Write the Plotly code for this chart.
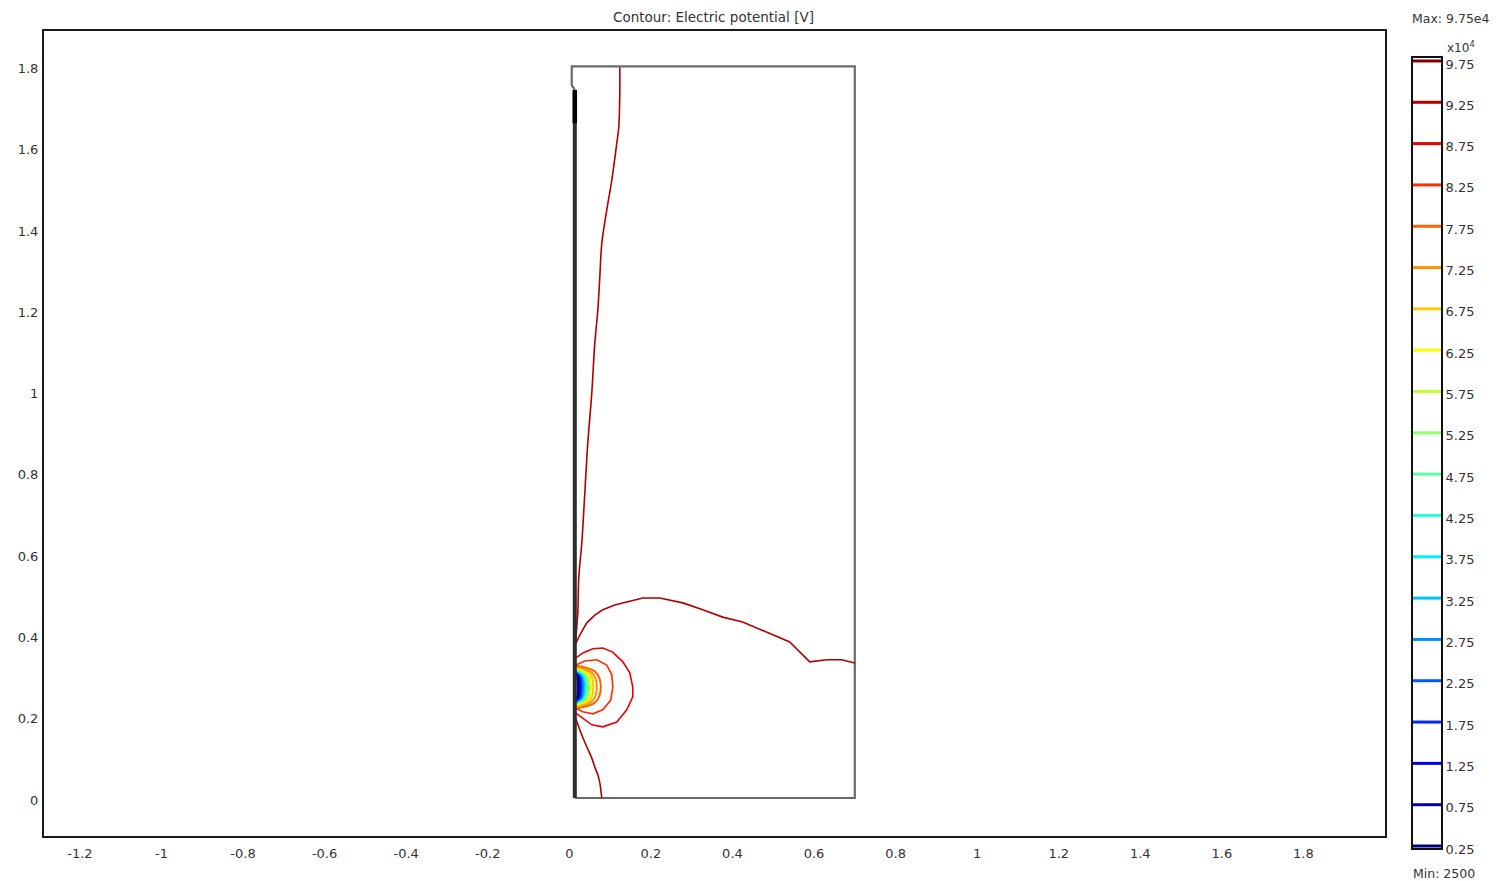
import plotly.graph_objects as go

W, H = 1499, 881

# Contour levels in units of 1e4 V, with their line colours
levels = [0.25, 0.75, 1.25, 1.75, 2.25, 2.75, 3.25, 3.75, 4.25, 4.75,
          5.25, 5.75, 6.25, 6.75, 7.25, 7.75, 8.25, 8.75, 9.25, 9.75]
level_colors = ["#000080", "#0000b8", "#0000f0", "#0028ff", "#005cff",
                "#0090ff", "#00c4ff", "#00f0ff", "#28ffd4", "#5cffa0",
                "#90ff6c", "#c4ff38", "#f8ff00", "#ffc800", "#ff9400",
                "#ff6000", "#ff2c00", "#e80000", "#b00000", "#800000"]
color_of = dict(zip(levels, level_colors))

# 9.25e4 V contour: branch from the top boundary down to the wire
c925_top_x = [0.1238, 0.1238, 0.1213, 0.1164, 0.1042, 0.0919, 0.0797, 0.0748,
              0.0699, 0.0625, 0.0551, 0.0453, 0.0380, 0.0306, 0.0233, 0.0208,
              0.0184, 0.0159]
c925_top_y = [1.798, 1.734, 1.651, 1.611, 1.520, 1.447, 1.365, 1.282,
              1.200, 1.119, 0.996, 0.873, 0.750, 0.627, 0.544, 0.455,
              0.421, 0.389]

# 9.25e4 V contour: arch over the source reaching the outer boundary
c925_arch_x = [0.0159, 0.0257, 0.0429, 0.0625, 0.0821, 0.1115, 0.1409, 0.1801,
               0.2218, 0.2782, 0.3272, 0.3762, 0.4252, 0.4841, 0.5404, 0.5895,
               0.6311, 0.6679, 0.7000]
c925_arch_y = [0.380, 0.401, 0.431, 0.450, 0.463, 0.475, 0.482, 0.492,
               0.492, 0.480, 0.463, 0.445, 0.433, 0.408, 0.384, 0.335,
               0.340, 0.340, 0.332]

# 9.25e4 V contour: branch from the wire to the bottom boundary
c925_low_x = [0.0159, 0.0306, 0.0429, 0.0551, 0.0625, 0.0699, 0.0748, 0.0772, 0.0797]
c925_low_y = [0.195, 0.155, 0.126, 0.098, 0.076, 0.057, 0.037, 0.020, 0.000]

# 8.75e4 V contour around the source
c875_x = [0.0159, 0.0331, 0.0576, 0.0821, 0.1066, 0.1311, 0.1483, 0.1556,
          0.1556, 0.1409, 0.1164, 0.0821, 0.0551, 0.0306, 0.0159]
c875_y = [0.344, 0.357, 0.367, 0.369, 0.359, 0.335, 0.308, 0.273,
          0.249, 0.217, 0.187, 0.175, 0.180, 0.197, 0.209]

# 8.25e4 V contour around the source
c825_x = [0.0159, 0.0380, 0.0674, 0.0919, 0.1042, 0.1066, 0.1017, 0.0821,
          0.0576, 0.0331, 0.0159]
c825_y = [0.327, 0.337, 0.340, 0.327, 0.303, 0.273, 0.241, 0.217,
          0.207, 0.212, 0.221]

# Tight contours hugging the source: wall crossings, shoulders and right-most reach
inner_levels = [0.25, 0.75, 1.25, 1.75, 2.25, 2.75, 3.25, 3.75,
                4.25, 4.75, 5.25, 5.75, 6.25, 6.75, 7.25, 7.75]
inner_right_x = [0.0208, 0.0233, 0.0257, 0.0282, 0.0306, 0.0331, 0.0355, 0.0380,
                 0.0404, 0.0429, 0.0453, 0.0490, 0.0527, 0.0588, 0.0674, 0.0772]
inner_shoulder_x = [0.0193, 0.0213, 0.0233, 0.0253, 0.0272, 0.0292, 0.0311, 0.0331,
                    0.0350, 0.0370, 0.0389, 0.0419, 0.0449, 0.0497, 0.0566, 0.0645]
inner_top_y = [0.306, 0.308, 0.308, 0.309, 0.309, 0.310, 0.310, 0.311,
               0.313, 0.314, 0.315, 0.316, 0.317, 0.320, 0.322, 0.326]
inner_upper_y = [0.296, 0.297, 0.297, 0.298, 0.298, 0.299, 0.299, 0.300,
                 0.301, 0.301, 0.302, 0.303, 0.304, 0.306, 0.307, 0.310]
inner_lower_y = [0.250, 0.249, 0.249, 0.248, 0.248, 0.247, 0.247, 0.246,
                 0.245, 0.245, 0.244, 0.243, 0.242, 0.240, 0.239, 0.236]
inner_bottom_y = [0.240, 0.239, 0.239, 0.237, 0.237, 0.236, 0.236, 0.235,
                  0.234, 0.233, 0.231, 0.230, 0.229, 0.226, 0.224, 0.220]
source_y = 0.273

# Geometry: wire position and outer boundary of the domain
wire_x = 0.0135
wire_top = 1.742
boundary_x = [wire_x, 0.700, 0.700, 0.006, 0.006, wire_x]
boundary_y = [0.000, 0.000, 1.800, 1.800, 1.754, wire_top]

x_ticks = [-1.2, -1, -0.8, -0.6, -0.4, -0.2, 0, 0.2, 0.4, 0.6, 0.8, 1, 1.2, 1.4, 1.6, 1.8]
x_ticktext = ["-1.2", "-1", "-0.8", "-0.6", "-0.4", "-0.2", "0", "0.2", "0.4",
              "0.6", "0.8", "1", "1.2", "1.4", "1.6", "1.8"]
y_ticks = [0, 0.2, 0.4, 0.6, 0.8, 1, 1.2, 1.4, 1.6, 1.8]
y_ticktext = ["0", "0.2", "0.4", "0.6", "0.8", "1", "1.2", "1.4", "1.6", "1.8"]
bar_ticktext = ["%.2f" % v for v in levels]

FONT = "DejaVu Sans"
TXT = "#333333"
LW = 1.6

fig = go.Figure()

# domain boundary
fig.add_trace(go.Scatter(x=boundary_x, y=boundary_y, mode="lines",
                         line=dict(color="#6a6a6a", width=2.2),
                         hoverinfo="skip", showlegend=False))

# outer contours (smooth branches along the wire, faceted arch and loops)
for xs, ys, lv, shp in [(c925_top_x, c925_top_y, 9.25, "spline"),
                        (c925_arch_x, c925_arch_y, 9.25, "linear"),
                        (c925_low_x, c925_low_y, 9.25, "spline"),
                        (c875_x, c875_y, 8.75, "linear"),
                        (c825_x, c825_y, 8.25, "linear")]:
    fig.add_trace(go.Scatter(x=xs, y=ys, mode="lines",
                             line=dict(color=color_of[lv], width=LW, shape=shp),
                             hoverinfo="skip", showlegend=False))

# tight contours around the source, outermost first
inner = list(zip(inner_levels, inner_right_x, inner_shoulder_x,
                 inner_top_y, inner_upper_y, inner_lower_y, inner_bottom_y))
for lv, rx, sx, ty, uy, ly, by in reversed(inner):
    fig.add_trace(go.Scatter(x=[wire_x, sx, rx, sx, wire_x],
                             y=[ty, uy, source_y, ly, by], mode="lines",
                             line=dict(color=color_of[lv], width=2.0,
                                       shape="spline", smoothing=1.0),
                             hoverinfo="skip", showlegend=False))

# wire along the symmetry boundary
fig.add_trace(go.Scatter(x=[wire_x, wire_x], y=[0, wire_top], mode="lines",
                         line=dict(color="#2e2e2e", width=4),
                         hoverinfo="skip", showlegend=False))
fig.add_trace(go.Scatter(x=[wire_x, wire_x], y=[1.66, wire_top], mode="lines",
                         line=dict(color="#000000", width=4.5),
                         hoverinfo="skip", showlegend=False))

# colour legend of the contour levels
for lv, col in zip(levels, level_colors):
    fig.add_trace(go.Scatter(x=[0, 1], y=[lv, lv], mode="lines",
                             line=dict(color=col, width=3),
                             xaxis="x2", yaxis="y2",
                             hoverinfo="skip", showlegend=False))

px = lambda v: v / W
py = lambda v: 1 - v / H

fig.update_layout(
    width=W, height=H,
    margin=dict(l=0, r=0, t=0, b=0),
    paper_bgcolor="white", plot_bgcolor="white",
    font=dict(family=FONT, size=13, color=TXT),
    xaxis=dict(domain=[px(44), px(1385)], range=[-1.288, 2.0],
               tickvals=x_ticks, ticktext=x_ticktext,
               ticks="", ticklabelstandoff=4,
               showgrid=False, zeroline=False,
               showline=True, mirror=True, linecolor="#1a1a1a", linewidth=2,
               anchor="y", automargin=False, fixedrange=True),
    yaxis=dict(domain=[py(836), py(31)], range=[-0.0935, 1.887],
               tickvals=y_ticks, ticktext=y_ticktext,
               ticks="", ticklabelstandoff=1, ticklabelshift=2,
               showgrid=False, zeroline=False,
               showline=True, mirror=True, linecolor="#1a1a1a", linewidth=2,
               anchor="x", automargin=False, fixedrange=True),
    xaxis2=dict(domain=[px(1413), px(1441)], range=[0, 1],
                showticklabels=False, ticks="", showgrid=False, zeroline=False,
                showline=True, mirror=True, linecolor="#111111", linewidth=2,
                anchor="y2", automargin=False, fixedrange=True),
    yaxis2=dict(domain=[py(848), py(58)], range=[0.226, 9.786],
                tickvals=levels, ticktext=bar_ticktext, side="right",
                ticks="", ticklabelstandoff=0, ticklabelshift=3,
                showgrid=False, zeroline=False,
                showline=True, mirror=True, linecolor="#111111", linewidth=2,
                anchor="x2", automargin=False, fixedrange=True),
    annotations=[
        dict(text="Contour: Electric potential [V]", x=px(713), y=py(17),
             xref="paper", yref="paper", showarrow=False,
             xanchor="center", yanchor="middle", font=dict(size=13.5, color=TXT)),
        dict(text="Max: 9.75e4", x=px(1451), y=py(18),
             xref="paper", yref="paper", showarrow=False,
             xanchor="center", yanchor="middle", font=dict(size=12.5, color=TXT)),
        dict(text="x10<sup>4</sup>", x=px(1445), y=py(47),
             xref="paper", yref="paper", showarrow=False,
             xanchor="left", yanchor="middle", font=dict(size=12, color=TXT)),
        dict(text="Min: 2500", x=px(1444), y=py(873),
             xref="paper", yref="paper", showarrow=False,
             xanchor="center", yanchor="middle", font=dict(size=12.5, color=TXT)),
    ],
)

fig.write_html("out.html")
